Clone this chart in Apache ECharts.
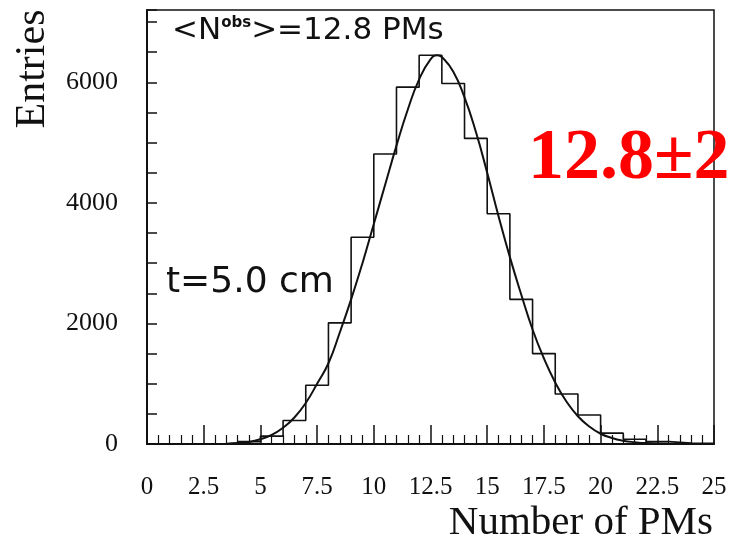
<!DOCTYPE html>
<html><head><meta charset="utf-8">
<script src="https://cdn.jsdelivr.net/npm/echarts@6/dist/echarts.min.js"></script>
<style>html,body{margin:0;padding:0;background:#fff}#c{width:731px;height:546px}</style>
</head><body><div id="c"></div>
<script>
// Histogram: bin lower edges (width 1 PM) and entries per bin
const binEdges  = [0,1,2,3,4,5,6,7,8,9,10,11,12,13,14,15,16,17,18,19,20,21,22,23,24,25];
const binCounts = [0,0,0,5,40,130,390,975,2010,3430,4810,5920,6450,5980,5070,3820,2400,1500,830,480,180,80,40,15,10];
// Fitted curve
const fitX = [3.5,4,4.5,5,5.5,6,6.5,7,7.5,8,8.5,9,9.5,10,10.5,11,11.5,12,12.5,12.8,13,13.5,14,14.5,15,15.5,16,16.5,17,17.5,18,18.5,19,19.5,20,20.5,21,21.5,22,23];
const fitY = [5,15,35,80,150,270,440,680,1000,1340,1850,2400,3000,3650,4300,4950,5550,6050,6380,6450,6420,6180,5750,5180,4500,3780,3100,2480,1900,1420,1020,700,460,290,170,100,55,30,15,5];
const yTickLabels = [0,2000,4000,6000];

const histData = binCounts.map((c,i)=>[binEdges[i], c]);
histData.push([binEdges[binEdges.length-1], binCounts[binCounts.length-1]]);
const fitData = fitX.map((x,i)=>[x, fitY[i]]);

const chart = echarts.init(document.getElementById('c'), null, {renderer:'canvas'});
const serif = '"Liberation Serif","Times New Roman",serif';
const sans = '"DejaVu Sans",sans-serif';
chart.setOption({
  animation:false,
  backgroundColor:'#fff',
  grid:{left:147,right:17,top:10,bottom:102,show:true,borderColor:'#111',borderWidth:1.5},
  xAxis:{type:'value',min:0,max:25,interval:2.5,
    axisLine:{show:true,lineStyle:{color:'#111',width:2}},
    axisTick:{show:true,inside:true,length:19,lineStyle:{color:'#111',width:1.5}},
    minorTick:{show:true,splitNumber:5,length:9,lineStyle:{color:'#111',width:1.2}},
    splitLine:{show:false},minorSplitLine:{show:false},
    axisLabel:{margin:31,color:'#111',fontFamily:serif,fontSize:25}},
  yAxis:{type:'value',min:0,max:7200,interval:500,
    axisLine:{show:true,lineStyle:{color:'#111',width:2}},
    axisTick:{show:true,inside:true,length:10,lineStyle:{color:'#111',width:1.5}},
    splitLine:{show:false},
    axisLabel:{margin:29,color:'#111',fontFamily:serif,fontSize:26,
      formatter:v=>yTickLabels.includes(v)?String(v):''}},
  series:[
    {type:'line',data:histData,step:'end',symbol:'none',
      lineStyle:{color:'#111',width:1.6},z:3},
    {type:'line',data:fitData,smooth:true,symbol:'none',
      lineStyle:{color:'#111',width:2},z:4}
  ],
  graphic:[
    {type:'text',x:33,y:69,rotation:Math.PI/2,style:{text:'Entries',font:'42px '+serif,fill:'#111',align:'center',verticalAlign:'middle'}},
    {type:'text',x:713,y:523,style:{text:'Number of PMs',font:'41px '+serif,fill:'#111',align:'right',verticalAlign:'middle'}},
    {type:'text',x:172,y:31,style:{text:'{a|<N}{s|obs}{a|>=12.8 PMs}',fill:'#111',align:'left',verticalAlign:'middle',
      rich:{a:{fontFamily:sans,fontSize:31,fill:'#111'},s:{fontFamily:sans,fontSize:15,fontWeight:'bold',verticalAlign:'top',fill:'#111'}}}},
    {type:'text',x:166,y:283,style:{text:'t=5.0 cm',font:'36px '+sans,fill:'#111',align:'left',verticalAlign:'middle'}},
    {type:'text',x:528,y:159,style:{text:'12.8±2',font:'bold 72px '+serif,fill:'#ff0000',align:'left',verticalAlign:'middle'}}
  ]
});
</script></body></html>
